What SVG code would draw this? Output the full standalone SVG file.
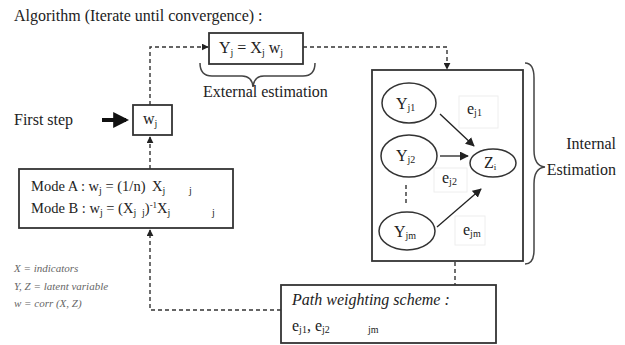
<svg xmlns="http://www.w3.org/2000/svg" width="625" height="345" viewBox="0 0 625 345" font-family="'Liberation Serif', 'DejaVu Serif', serif">
<defs>
<marker id="ah" viewBox="0 0 10 10" refX="9" refY="5" markerWidth="7" markerHeight="7" orient="auto" markerUnits="userSpaceOnUse"><path d="M0,0 L10,5 L0,10 z" fill="#222"/></marker>
<marker id="ahs" viewBox="0 0 10 10" refX="9" refY="5" markerWidth="9" markerHeight="9" orient="auto" markerUnits="userSpaceOnUse"><path d="M0,0 L10,5 L0,10 z" fill="#222"/></marker>
<marker id="ahb" viewBox="0 0 10 10" refX="8" refY="5" markerWidth="4" markerHeight="4" orient="auto"><path d="M0,0 L10,5 L0,10 z" fill="#111"/></marker>
</defs>
<style>
text{font-family:'Liberation Serif','DejaVu Serif',serif;fill:#222;}
.t{font-size:16px;}
.m{font-size:14.5px;}
.box{fill:#fff;stroke:#333;stroke-width:1.8;}
.ell{fill:#fff;stroke:#333;stroke-width:1.5;}
.dash{fill:none;stroke:#333;stroke-width:1.4;stroke-dasharray:4 3;}
.solid{fill:none;stroke:#222;stroke-width:1.3;}
.brace{fill:none;stroke:#444;stroke-width:1.5;}
.faint{fill:none;stroke:#eeeeee;stroke-width:1;}
.leg{font-size:11px;font-style:italic;fill:#666;}
</style>
<rect width="625" height="345" fill="#fff"/>
<text class="t" x="14" y="21">Algorithm (Iterate until convergence) :</text>
<text class="t" x="14" y="125">First step</text>

<g id="internal-box">
<rect class="box" x="372" y="70" width="151" height="191"/>
<rect class="faint" x="459" y="96" width="39" height="32"/>
<rect class="faint" x="434" y="168" width="33" height="24"/>
<rect class="faint" x="455" y="216" width="30" height="29"/>
</g>

<g id="connectors">
<path class="dash" d="M150,105 V47 H208" marker-end="url(#ah)"/>
<path class="dash" d="M303,47 H447 V69" marker-end="url(#ah)"/>
<path class="dash" d="M150,169 V137" marker-end="url(#ah)"/>
<path class="dash" d="M281,310 H150 V230" marker-end="url(#ah)"/>
<path class="dash" d="M455,262 V285"/>
<line x1="102" y1="120" x2="126" y2="120" stroke="#111" stroke-width="4" marker-end="url(#ahb)"/>
<path class="solid" d="M440,114 L474,146" marker-end="url(#ahs)"/>
<path class="solid" d="M440,156 L468,156" marker-end="url(#ahs)"/>
<path class="solid" d="M437,227 L481,189" marker-end="url(#ahs)"/>
<path class="dash" d="M406,185 V203" stroke-dasharray="3 3"/>
</g>

<g id="yj-box">
<rect class="box" x="209" y="33" width="94" height="31"/>
<text class="t" x="219" y="53">Y<tspan font-size="10" dy="3">j</tspan><tspan dy="-3"> = X</tspan><tspan font-size="10" dy="3">j</tspan><tspan dy="-3"> w</tspan><tspan font-size="10" dy="3">j</tspan></text>
</g>
<g id="external-brace">
<path class="brace" d="M200,63 Q200,76 212,76 H242 Q252,76 253,87 Q254,76 264,76 H303 Q315,76 315,63"/>
<text class="t" x="203" y="97">External estimation</text>
</g>

<g id="wj-box">
<rect class="box" x="133" y="105" width="39" height="30"/>
<text class="t" x="143" y="124">w<tspan font-size="10" dy="3">j</tspan></text>
</g>

<g id="mode-box">
<rect class="box" x="19" y="169" width="214" height="59"/>
<text class="m" x="31" y="191">Mode A : w<tspan font-size="10" dy="3">j</tspan><tspan dy="-3"> = (1/n)</tspan><tspan x="152">X</tspan><tspan font-size="10" dy="3">j</tspan><tspan font-size="10" x="189">j</tspan></text>
<text class="m" x="31" y="213">Mode B : w<tspan font-size="10" dy="3">j</tspan><tspan dy="-3"> = (X</tspan><tspan font-size="10" dy="3">j</tspan><tspan font-size="10" x="142">j</tspan><tspan dy="-3">)</tspan><tspan font-size="9" dy="-5">-1</tspan><tspan x="157" dy="5">X</tspan><tspan font-size="10" dy="3">j</tspan><tspan font-size="10" x="212">j</tspan></text>
</g>

<g id="legend">
<text class="leg" x="14" y="272">X = indicators</text>
<text class="leg" x="14" y="290">Y, Z = latent variable</text>
<text class="leg" x="14" y="307">w = corr (X, Z)</text>
</g>

<g id="node-yj1">
<ellipse class="ell" cx="409" cy="103" rx="27" ry="20"/>
<text class="t" x="396" y="109">Y<tspan font-size="10" dy="2">j1</tspan></text>
</g>
<g id="node-yj2">
<ellipse class="ell" cx="409" cy="156" rx="28" ry="21"/>
<text class="t" x="396" y="161">Y<tspan font-size="10" dy="2">j2</tspan></text>
</g>
<g id="node-yjm">
<ellipse class="ell" cx="407" cy="231" rx="28" ry="19"/>
<text class="t" x="394" y="237">Y<tspan font-size="10" dy="2">jm</tspan></text>
</g>
<g id="node-zi">
<ellipse class="ell" cx="493" cy="163" rx="23" ry="14"/>
<text class="t" x="484" y="168">Z<tspan font-size="9" dy="2">i</tspan></text>
</g>
<g id="edge-labels">
<text class="t" x="467" y="114">e<tspan font-size="10" dy="2">j1</tspan></text>
<text class="t" x="442" y="183">e<tspan font-size="10" dy="2">j2</tspan></text>
<text class="t" x="463" y="235">e<tspan font-size="10" dy="2">jm</tspan></text>
</g>

<g id="internal-brace">
<path class="brace" d="M525,63 Q534,63 534,78 V150 Q534,166 545,167 Q534,168 534,184 V250 Q534,264 525,264"/>
<text class="t" x="616" y="149" text-anchor="end">Internal</text>
<text class="t" x="616" y="175" text-anchor="end">Estimation</text>
</g>

<g id="path-box">
<rect class="box" x="281" y="285" width="215" height="58"/>
<text class="t" x="292" y="305" font-style="italic">Path weighting scheme :</text>
<text class="t" x="292" y="331" font-size="14">e<tspan font-size="10" dy="2">j1</tspan><tspan dy="-2">, e</tspan><tspan font-size="10" dy="2">j2</tspan><tspan font-size="10" x="368">jm</tspan></text>
</g>
</svg>
